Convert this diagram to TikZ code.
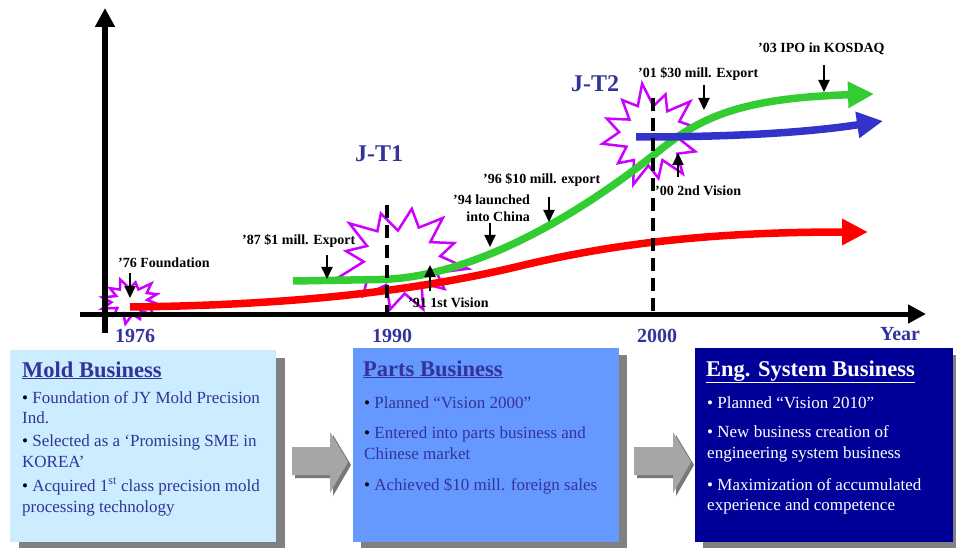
\documentclass[tikz,border=0pt]{standalone}
\usepackage{fontspec}
\setmainfont{Liberation Serif}
\usetikzlibrary{arrows.meta}
\definecolor{jtblue}{RGB}{51,51,153}
\definecolor{burstc}{RGB}{204,0,255}
\definecolor{cred}{RGB}{255,0,0}
\definecolor{cgreen}{RGB}{51,204,51}
\definecolor{cblue}{RGB}{51,51,204}
\definecolor{boxa}{RGB}{204,236,255}
\definecolor{boxb}{RGB}{102,153,255}
\definecolor{boxc}{RGB}{0,0,153}
\definecolor{shadec}{RGB}{128,128,128}
\definecolor{arrface}{RGB}{166,166,166}
\definecolor{arrside}{RGB}{120,120,120}
\newcommand{\myburst}[6]{%
  \draw[burstline] plot[samples at={0,15,...,345}, variable=\t]
    ({#1+cos(\t+#6)*#3*(#5+(1-#5)*(1-mod(\t,30)/15))*(1+0.1*sin(5*\t))},
     {#2+sin(\t+#6)*#4*(#5+(1-#5)*(1-mod(\t,30)/15))*(1+0.1*sin(5*\t))}) -- cycle;}
\begin{document}
\begin{tikzpicture}[x=1pt,y=-1pt,
  ann/.style={font=\fontsize{14}{16}\selectfont\bfseries, inner sep=0pt, anchor=base west},
  annr/.style={font=\fontsize{14}{16}\selectfont\bfseries, inner sep=0pt, anchor=base east},
  yr/.style={font=\fontsize{20}{22}\selectfont\bfseries, text=jtblue, inner sep=0pt, anchor=base},
  jt/.style={font=\fontsize{24}{26}\selectfont\bfseries, text=jtblue, inner sep=0pt, anchor=base west},
  pin/.style={-{Triangle[length=12pt,width=11pt]}, line width=2pt},
  curve/.style={line width=7.5pt, -{Triangle[length=26pt,width=25pt]}},
  burstline/.style={draw=burstc, fill=white, line width=2.5pt, line join=miter},
  vline/.style={line width=4pt, dash pattern=on 13pt off 7pt},
  boxtitle/.style={font=\fontsize{22.5}{24}\selectfont\bfseries, inner sep=0pt, anchor=base west},
  boxline/.style={font=\fontsize{17}{20}\selectfont, inner sep=0pt, anchor=base west},
  panel/.style={inner sep=0pt, anchor=north west},
]
\useasboundingbox (0,0) rectangle (956,548);

% ---- bottom boxes ----
\node[panel, fill=shadec, minimum width=266pt, minimum height=194pt] (sh1) at (19,358) {};
\node[panel, fill=boxa, minimum width=266pt, minimum height=192pt] (bx1) at (10,350) {};
\node[panel, fill=shadec, minimum width=266pt, minimum height=196pt] (sh2) at (361,355) {};
\node[panel, fill=boxb, minimum width=266pt, minimum height=194pt] (bx2) at (353,348) {};
\node[panel, fill=shadec, minimum width=258pt, minimum height=196pt] (sh3) at (703,355) {};
\node[panel, fill=boxc, minimum width=258pt, minimum height=194pt] (bx3) at (695,348) {};

% block arrows
\fill[arrside] (295,450) -- (333,450) -- (333,435) -- (351,465) -- (333,496) -- (333,478) -- (295,478) -- cycle;
\fill[arrface] (292,447) -- (330,447) -- (330,432) -- (348,462) -- (330,493) -- (330,475) -- (292,475) -- cycle;
\fill[arrside] (637,450) -- (676,450) -- (676,435) -- (694,465) -- (676,496) -- (676,478) -- (637,478) -- cycle;
\fill[arrface] (634,447) -- (673,447) -- (673,432) -- (691,462) -- (673,493) -- (673,475) -- (634,475) -- cycle;

% box 1 text
\node[boxtitle, text=jtblue] (t1) at (22,377) {\underline{Mold Business}};
\node[boxline, text=jtblue] (l11) at (22,403) {{\color{black}\textbullet} Foundation of JY Mold Precision};
\node[boxline, text=jtblue] (l12) at (22,423) {Ind.};
\node[boxline, text=jtblue] (l13) at (22,446) {{\color{black}\textbullet} Selected as a ‘Promising SME in};
\node[boxline, text=jtblue] (l14) at (22,467) {KOREA’};
\node[boxline, text=jtblue] (l15) at (22,491) {{\color{black}\textbullet} Acquired 1\textsuperscript{st} class precision mold};
\node[boxline, text=jtblue] (l16) at (22,512) {processing technology};

% box 2 text
\node[boxtitle, text=jtblue] (t2) at (363,376) {\underline{Parts Business}};
\node[boxline, text=jtblue] (l21) at (364,408) {{\color{black}\textbullet} Planned “Vision 2000”};
\node[boxline, text=jtblue] (l22) at (364,438) {{\color{black}\textbullet} Entered into parts business and};
\node[boxline, text=jtblue] (l23) at (364,459) {Chinese market};
\node[boxline, text=jtblue] (l24) at (364,490) {{\color{black}\textbullet} Achieved \$10 mill. foreign sales};

% box 3 text
\node[boxtitle, text=white] (t3) at (706,376) {\underline{Eng. System Business}};
\node[boxline, text=white] (l31) at (707,408) {\textbullet{} Planned “Vision 2010”};
\node[boxline, text=white] (l32) at (707,437) {\textbullet{} New business creation of};
\node[boxline, text=white] (l33) at (707,458) {engineering system business};
\node[boxline, text=white] (l34) at (707,490) {\textbullet{} Maximization of accumulated};
\node[boxline, text=white] (l35) at (707,510) {experience and competence};

% ---- bursts ----
\myburst{131}{301}{29}{21}{0.62}{10}
\myburst{401}{259}{62}{51}{0.62}{-80}
\myburst{651}{135}{47}{48}{0.62}{20}

% ---- curves ----
\coordinate (r0) at (130,307);
\coordinate (r1) at (520,266);
\coordinate (r2) at (868,232);
\draw[curve, cred] (r0) .. controls (300,305) and (420,290) .. (r1) .. controls (620,242) and (720,232) .. (r2);
\coordinate (g0) at (293,281);
\coordinate (g1) at (380,279.5);
\coordinate (g2) at (660,150);
\coordinate (g3) at (874,94);
\draw[curve, cgreen] (g0) -- (g1) .. controls (460,278) and (560,230) .. (g2) .. controls (700,118) and (740,98) .. (g3);
\coordinate (b0) at (636,137);
\coordinate (b1) at (883,121);
\draw[curve, cblue] (b0) .. controls (740,137) and (810,132) .. (b1);

% ---- dashed year lines ----
\coordinate (d1a) at (387,205);
\coordinate (d1b) at (387,313);
\coordinate (d2a) at (653,98);
\coordinate (d2b) at (653,313);
\draw[vline] (d1a) -- (d1b);
\draw[vline] (d2a) -- (d2b);

% ---- axes ----
\coordinate (ya) at (105,333);
\coordinate (yb) at (105,8);
\coordinate (xa) at (80,314);
\coordinate (xb) at (926,314);
\draw[line width=5.5pt, -{Triangle[length=19pt,width=19pt]}] (ya) -- (yb);
\draw[line width=5pt, -{Triangle[length=18pt,width=18pt]}] (xa) -- (xb);

% ---- year labels ----
\node[yr] (y76) at (135,342) {1976};
\node[yr] (y90) at (392,342) {1990};
\node[yr] (y00) at (657,342) {2000};
\node[yr] (yy) at (900,340) {Year};
\node[jt] (jt1) at (355,162) {J-T1};
\node[jt] (jt2) at (571,92) {J-T2};

% ---- annotations ----
\node[ann] (a76) at (118,267) {’76 Foundation};
\coordinate (p76a) at (130,273); \coordinate (p76b) at (130,298);
\draw[pin] (p76a) -- (p76b);

\node[ann] (a87) at (242,245) {’87 \$1 mill. Export};
\coordinate (p87a) at (327,255); \coordinate (p87b) at (327,279);
\draw[pin] (p87a) -- (p87b);

\node[ann] (a91) at (408,307) {’91 1st Vision};
\coordinate (p91a) at (430,291); \coordinate (p91b) at (430,265);
\draw[pin] (p91a) -- (p91b);

\node[annr] (a94a) at (530,205) {’94 launched};
\node[annr] (a94b) at (530,222) {into China};
\coordinate (p94a) at (490,223); \coordinate (p94b) at (490,247);
\draw[pin] (p94a) -- (p94b);

\node[ann] (a96) at (483,184) {’96 \$10 mill. export};
\coordinate (p96a) at (549,197); \coordinate (p96b) at (549,222);
\draw[pin] (p96a) -- (p96b);

\node[ann] (a01) at (638,78) {’01 \$30 mill. Export};
\coordinate (p01a) at (704,85); \coordinate (p01b) at (704,110);
\draw[pin] (p01a) -- (p01b);

\node[ann] (a03) at (758,53) {’03 IPO in KOSDAQ};
\coordinate (p03a) at (824,65); \coordinate (p03b) at (824,92);
\draw[pin] (p03a) -- (p03b);

\node[ann] (a00) at (655,196) {’00 2nd Vision};
\coordinate (p00a) at (678,177); \coordinate (p00b) at (678,153);
\draw[pin] (p00a) -- (p00b);
\end{tikzpicture}
\end{document}
